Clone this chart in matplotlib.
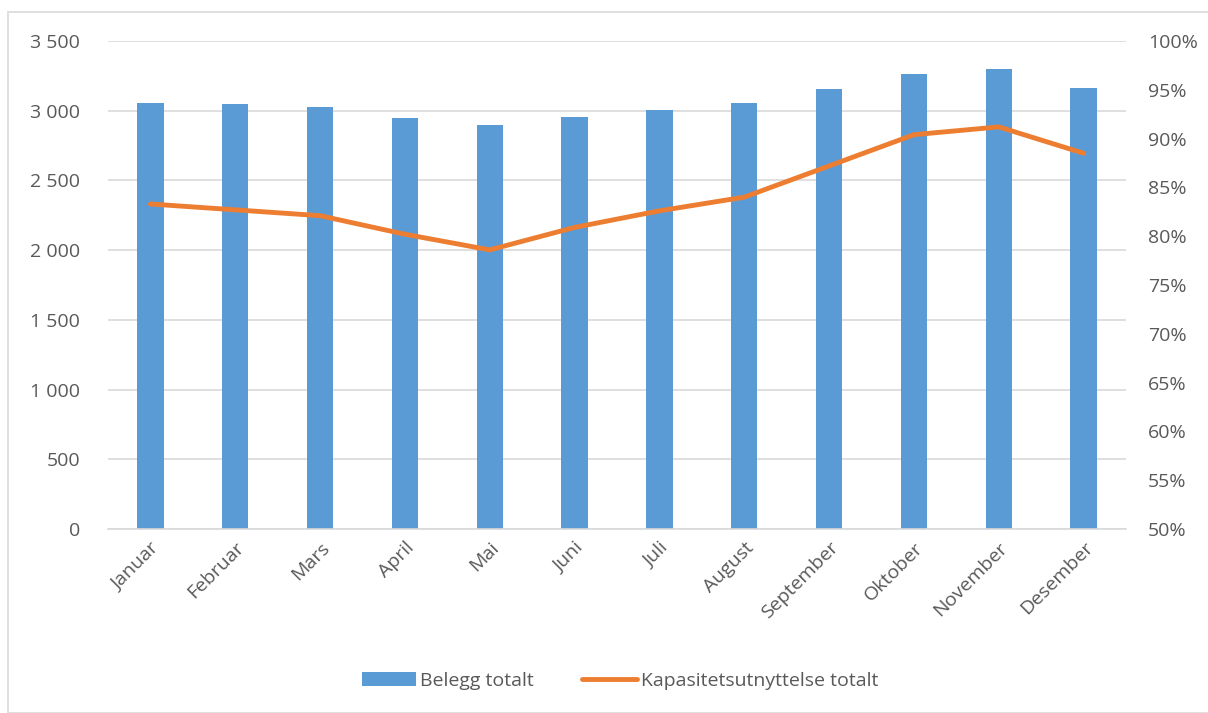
import numpy as np
import matplotlib.pyplot as plt
from matplotlib.patches import Rectangle
from matplotlib.ticker import FuncFormatter

plt.rcParams['font.family'] = ['Open Sans', 'DejaVu Sans']

months = ['Januar', 'Februar', 'Mars', 'April', 'Mai', 'Juni', 'Juli',
          'August', 'September', 'Oktober', 'November', 'Desember']
belegg = [3055, 3045, 3025, 2948, 2895, 2952, 3003, 3052, 3155, 3262, 3297, 3162]
kapasitet = [83.3, 82.7, 82.1, 80.2, 78.6, 80.9, 82.6, 84.0, 87.2, 90.4, 91.2, 88.5]

blue = '#5B9BD5'
orange = '#ED7D31'
grey = '#595959'
gridc = '#D9D9D9'

fig = plt.figure(figsize=(12.08, 7.13), dpi=100)
fig.patches.append(Rectangle((8/1208, 0), 1.2, 1 - 12/713, transform=fig.transFigure,
                             fill=False, edgecolor=gridc, linewidth=1.2))
ax = fig.add_axes([108/1208, 1 - 529/713, (1126 - 108)/1208, (529 - 41)/713])
ax2 = ax.twinx()

x = np.arange(len(months))
ax.bar(x, belegg, width=0.31, color=blue, zorder=2, label='Belegg totalt')
ax2.plot(x, kapasitet, color=orange, linewidth=3.5, solid_capstyle='round',
         label='Kapasitetsutnyttelse totalt')

ax.set_xlim(-0.5, len(months) - 0.5)
ax.set_ylim(0, 3500)
ax.set_yticks(np.arange(0, 3501, 500))
ax.yaxis.set_major_formatter(FuncFormatter(lambda v, p: f'{int(v):,}'.replace(',', ' ')))
ax2.set_ylim(50, 100)
ax2.set_yticks(np.arange(50, 101, 5))
ax2.yaxis.set_major_formatter(FuncFormatter(lambda v, p: f'{int(v)}%'))

ax.grid(axis='y', color=gridc, linewidth=1.2, zorder=0)
ax.set_axisbelow(True)
for a in (ax, ax2):
    for s in a.spines.values():
        s.set_visible(False)
    a.tick_params(length=0, colors=grey, labelsize=14)
ax.spines['bottom'].set_visible(True)
ax.spines['bottom'].set_color(gridc)
ax.spines['bottom'].set_linewidth(1.2)
ax.tick_params(axis='y', pad=20)
ax2.tick_params(axis='y', pad=16)

ax.set_xticks(x)
ax.set_xticklabels(months, rotation=45, ha='right', rotation_mode='anchor')
ax.tick_params(axis='x', pad=7)

h1, l1 = ax.get_legend_handles_labels()
h2, l2 = ax2.get_legend_handles_labels()
fig.legend(h1 + h2, l1 + l2, loc='center', bbox_to_anchor=(620/1208, 1 - 681/713),
           ncol=2, frameon=False, fontsize=14, labelcolor=grey,
           handlelength=2.8, handletextpad=0.2, columnspacing=2.5)

fig.savefig('out.png', dpi=100)
